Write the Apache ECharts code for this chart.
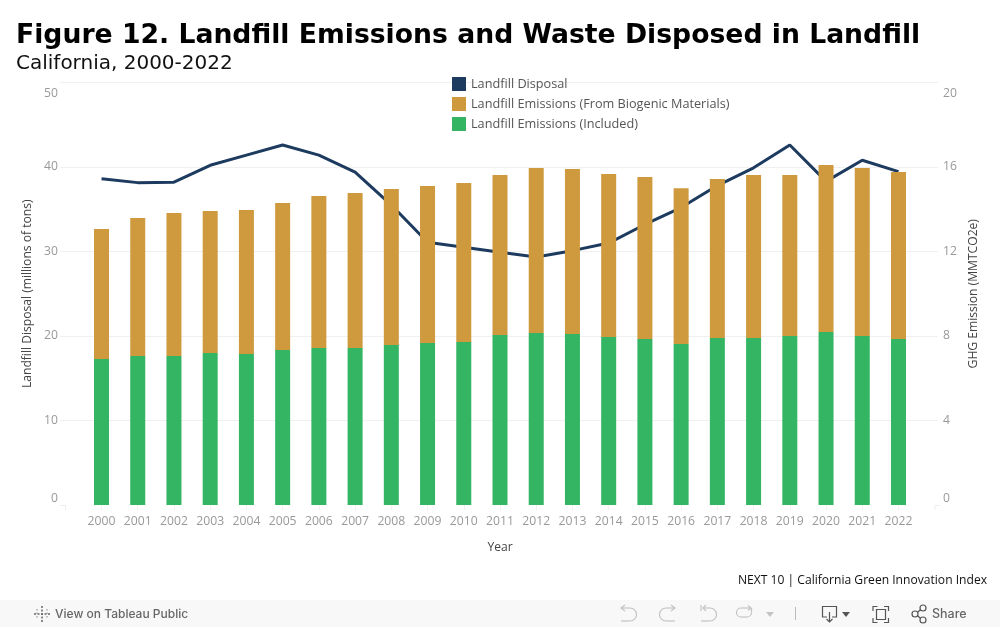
<!DOCTYPE html>
<html>
<head>
<meta charset="utf-8">
<style>html,body{margin:0;padding:0;background:#fff}#c{width:1000px;height:627px}</style>
<script src="https://cdn.jsdelivr.net/npm/echarts@6/dist/echarts.min.js"></script>
</head>
<body>
<div id="c"></div>
<script>
const years = ['2000','2001','2002','2003','2004','2005','2006','2007','2008','2009','2010','2011','2012','2013','2014','2015','2016','2017','2018','2019','2020','2021','2022'];
const disposal = [38.6,38.15,38.2,40.2,41.4,42.6,41.4,39.4,35.5,31.1,30.5,29.9,29.35,30.1,31.0,33.2,35.2,37.8,39.9,42.6,38.3,40.8,39.45];
const included = [6.91,7.05,7.05,7.20,7.15,7.34,7.43,7.43,7.57,7.67,7.72,8.05,8.14,8.09,7.95,7.86,7.62,7.91,7.91,8.00,8.19,8.00,7.86];
const biogenic = [6.16,6.54,6.77,6.72,6.81,6.96,7.20,7.34,7.39,7.43,7.52,7.57,7.81,7.82,7.72,7.67,7.38,7.52,7.71,7.62,7.90,7.95,7.90];
const leftTicks = {min:0,max:50,interval:10};
const rightTicks = {min:0,max:20,interval:4};
const BLUE='#1d3a5f', GOLD='#cf9a3e', GREEN='#33b563';
const LAB='#999999', FONT='"Open Sans"';
const labelStyle={color:LAB,fontFamily:FONT,fontSize:12.2};
const titleStyle={color:'#444',fontFamily:FONT,fontSize:12.1};
const chart=echarts.init(document.getElementById('c'),null,{renderer:'canvas'});
const gridTop=82.5, gridH=422.5;
const axisCommon={axisLine:{show:false},axisTick:{show:false}};
const LIGHT='#c4c4c4', DARK='#555';
const pl=(points,c)=>({type:'polyline',shape:{points},style:{stroke:c,fill:null,lineWidth:1.2}});
const ar=(cx,cy,r,a,b,c)=>({type:'arc',shape:{cx,cy,r,startAngle:a,endAngle:b,clockwise:true},style:{stroke:c,fill:null,lineWidth:1.2}});
const PI=Math.PI;
chart.setOption({
  animation:false,
  backgroundColor:'#fff',
  title:[
    {text:'Figure 12. Landfill Emissions and Waste Disposed in Landfill',left:16,top:23,padding:0,
     textStyle:{fontFamily:'"DejaVu Sans"',fontWeight:'bold',fontSize:26.66,color:'#000'}},
    {text:'California, 2000-2022',left:16,top:54,padding:0,
     textStyle:{fontFamily:'"DejaVu Sans"',fontWeight:'normal',fontSize:20,color:'#111'}}
  ],
  legend:{left:452,top:77,orient:'vertical',itemWidth:14,itemHeight:14,itemGap:6,padding:0,
    data:[{name:'Landfill Disposal',icon:'rect'},{name:'Landfill Emissions (From Biogenic Materials)',icon:'rect'},{name:'Landfill Emissions (Included)',icon:'rect'}],
    textStyle:{color:'#555',fontFamily:FONT,fontSize:12.7,padding:[2,0,0,0]},selectedMode:false},
  grid:[
    {left:60,width:878,top:gridTop,height:gridH},
    {left:83.4,width:833.2,top:gridTop,height:gridH}
  ],
  xAxis:[
    {gridIndex:0,type:'category',data:years,show:false},
    {gridIndex:1,type:'category',data:years,boundaryGap:true,
     axisLine:{show:false},axisTick:{show:true,alignWithLabel:true,length:5,lineStyle:{color:'#f0f0f0'}},
     axisLabel:Object.assign({interval:0,margin:11},labelStyle),
     name:'Year',nameLocation:'middle',nameGap:37,nameTextStyle:titleStyle}
  ],
  yAxis:[
    Object.assign({gridIndex:0,type:'value',position:'left',name:'Landfill Disposal (millions of tons)',nameLocation:'middle',nameGap:22,nameTextStyle:titleStyle,
      splitLine:{show:true,showMinLine:false,lineStyle:{color:'#f0f0f0',width:1}},
      axisLabel:Object.assign({margin:2,padding:[5,0,0,0],verticalAlignMaxLabel:'top',verticalAlignMinLabel:'bottom'},labelStyle)},leftTicks,axisCommon),
    Object.assign({gridIndex:0,type:'value',position:'right',name:'GHG Emission (MMTCO2e)',nameLocation:'middle',nameGap:29,nameTextStyle:titleStyle,
      splitLine:{show:false},
      axisLabel:Object.assign({margin:5,padding:[5,0,0,0],verticalAlignMaxLabel:'top',verticalAlignMinLabel:'bottom'},labelStyle)},rightTicks,axisCommon),
    Object.assign({gridIndex:1,type:'value',show:false,splitLine:{show:false}},leftTicks),
    Object.assign({gridIndex:1,type:'value',show:false,position:'right',splitLine:{show:false}},rightTicks)
  ],
  series:[
    {name:'Landfill Disposal',type:'line',xAxisIndex:1,yAxisIndex:2,data:disposal,z:1,symbol:'none',smooth:false,
     lineStyle:{color:BLUE,width:3},itemStyle:{color:BLUE}},
    {name:'Landfill Emissions (Included)',type:'bar',stack:'e',xAxisIndex:1,yAxisIndex:3,data:included,barWidth:15,z:3,itemStyle:{color:GREEN}},
    {name:'Landfill Emissions (From Biogenic Materials)',type:'bar',stack:'e',xAxisIndex:1,yAxisIndex:3,data:biogenic,barWidth:15,z:3,itemStyle:{color:GOLD}}
  ],
  graphic:[
    {type:'polyline',shape:{points:[[60,505.5],[65.5,505.5],[65.5,510]]},style:{stroke:'#eeeeee',fill:null,lineWidth:1}},
    {type:'polyline',shape:{points:[[935,510],[935,505.5],[940,505.5]]},style:{stroke:'#eeeeee',fill:null,lineWidth:1}},
    {type:'text',x:987,y:575,style:{text:'NEXT 10 | California Green Innovation Index',fill:'#111',align:'right',font:'12.1px "Open Sans"'}},
    {type:'rect',z:-1,shape:{x:0,y:600,width:1000,height:27},style:{fill:'#f8f8f8'}},
    {type:'text',x:55,y:608,style:{text:'View on Tableau Public',fill:'#666',font:'500 12px Inter'}},
    {type:'text',x:932,y:608,style:{text:'Share',fill:'#666',font:'500 12.5px Inter'}},
    {type:'group',x:42,y:614,children:[
      {type:'line',shape:{x1:0,y1:-8,x2:0,y2:8},style:{stroke:'#666',lineDash:[2,1.5],lineWidth:1.5}},
      {type:'line',shape:{x1:-8,y1:0,x2:8,y2:0},style:{stroke:'#666',lineDash:[2,1.5],lineWidth:1.5}},
      {type:'line',shape:{x1:-5,y1:-5,x2:-5,y2:5},style:{stroke:'#888',lineDash:[1.5,2],lineWidth:1}},
      {type:'line',shape:{x1:5,y1:-5,x2:5,y2:5},style:{stroke:'#888',lineDash:[1.5,2],lineWidth:1}}
    ]},
    pl([[621,608],[630,608]],LIGHT), ar(630,614.5,6.5,-PI/2,PI/2,LIGHT), pl([[630,621],[621,621]],LIGHT), pl([[625,605],[621,608],[625,611]],LIGHT),
    pl([[675,608],[666,608]],LIGHT), ar(666,614.5,6.5,PI/2,-PI/2,LIGHT), pl([[666,621],[675,621]],LIGHT), pl([[671,605],[675,608],[671,611]],LIGHT),
    pl([[701,605],[701,611]],LIGHT), pl([[703,608],[710,608]],LIGHT), ar(710,614.5,6.5,-PI/2,PI/2,LIGHT), pl([[710,621],[701,621]],LIGHT), pl([[706,605],[703,608],[706,611]],LIGHT),
    pl([[751,608],[741,608]],LIGHT), ar(741,612.5,4.5,PI/2,-PI/2,LIGHT), pl([[741,617],[747,617]],LIGHT), ar(747,612.5,4.5,0,PI/2,LIGHT), pl([[751.5,612.5],[751.5,608]],LIGHT), pl([[748,605.5],[751,608],[748,610.5]],LIGHT),
    {type:'polygon',shape:{points:[[766,612],[774,612],[770,617]]},style:{fill:LIGHT}},
    {type:'line',shape:{x1:795.5,y1:607,x2:795.5,y2:620},style:{stroke:'#bbb',lineWidth:1}},
    pl([[827,617],[822.5,617],[822.5,606.5],[836.5,606.5],[836.5,617],[832,617]],DARK), pl([[829.5,612],[829.5,622]],DARK), pl([[826.5,619],[829.5,622],[832.5,619]],DARK),
    {type:'polygon',shape:{points:[[842,612],[850,612],[846,617]]},style:{fill:DARK}},
    pl([[873,611],[873,606.5],[877.5,606.5]],DARK), pl([[884,606.5],[888.5,606.5],[888.5,611]],DARK), pl([[888.5,618],[888.5,622.5],[884,622.5]],DARK), pl([[877.5,622.5],[873,622.5],[873,618]],DARK),
    {type:'rect',shape:{x:876.5,y:609.5,width:9,height:10},style:{stroke:DARK,fill:null,lineWidth:1.2}},
    {type:'circle',shape:{cx:915,cy:614,r:3},style:{stroke:DARK,fill:null,lineWidth:1.2}},
    {type:'circle',shape:{cx:923,cy:608,r:3},style:{stroke:DARK,fill:null,lineWidth:1.2}},
    {type:'circle',shape:{cx:923,cy:620,r:3},style:{stroke:DARK,fill:null,lineWidth:1.2}},
    pl([[917.5,612.3],[920.5,609.8]],DARK), pl([[917.5,615.7],[920.5,618.2]],DARK)
  ]
});
</script>
</body>
</html>
